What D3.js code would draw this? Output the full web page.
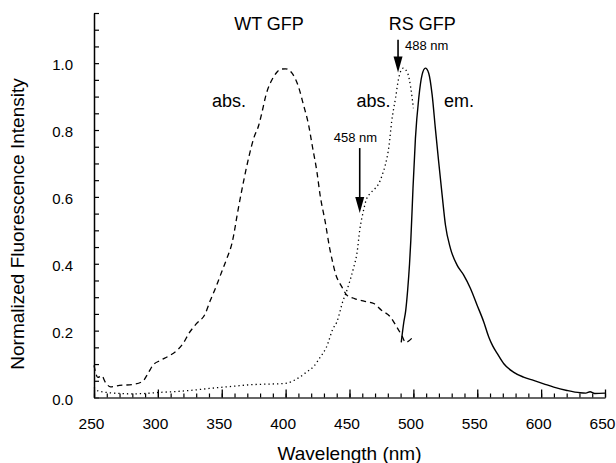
<!DOCTYPE html>
<html>
<head>
<meta charset="utf-8">
<script src="https://cdn.jsdelivr.net/npm/d3@7"></script>
<style>
  body { margin: 0; background: #fff; }
  svg { display: block; font-family: "Liberation Sans", Arial, Helvetica, sans-serif; }
</style>
</head>
<body>
<div id="chart"></div>
<script>
// WT GFP absorbance (dashed)
var wtWave = [250, 253, 256, 259, 263, 270, 280, 288, 292, 296, 302, 308, 315, 320, 324, 330, 337, 341, 345, 350,
  354, 358, 363, 367, 371, 375, 379, 381, 385, 389, 393, 396, 400, 405, 410, 414, 418, 421, 424.5, 427,
  431, 434.5, 436.5, 439, 444, 448, 454, 464, 469, 475, 482, 487, 491, 494, 499];
var wtAbs = [0.096, 0.06, 0.065, 0.045, 0.032, 0.036, 0.039, 0.048, 0.07, 0.096, 0.111, 0.123, 0.141, 0.163, 0.19, 0.22, 0.25, 0.29, 0.326, 0.376,
  0.416, 0.461, 0.566, 0.645, 0.716, 0.775, 0.815, 0.845, 0.91, 0.948, 0.972, 0.982, 0.983, 0.97, 0.93, 0.875, 0.815, 0.75, 0.675, 0.605,
  0.525, 0.446, 0.41, 0.371, 0.331, 0.306, 0.296, 0.286, 0.281, 0.261, 0.241, 0.211, 0.185, 0.165, 0.178];

// RS GFP absorbance (dotted)
var rsWave = [250, 253, 260, 270, 280, 290, 300, 310, 325, 340, 351, 360, 372, 385, 395, 401, 406, 411, 416, 422,
  427, 432, 437, 440, 445, 447, 450, 453, 456, 458, 461, 463, 466, 470, 473, 476, 478, 481, 483, 486,
  488.5, 492, 495.5, 498, 500];
var rsAbs = [0.03, 0.02, 0.015, 0.012, 0.011, 0.012, 0.015, 0.017, 0.021, 0.027, 0.031, 0.034, 0.038, 0.04, 0.041, 0.043, 0.05, 0.061, 0.075, 0.093,
  0.12, 0.151, 0.205, 0.225, 0.29, 0.31, 0.345, 0.385, 0.436, 0.5, 0.56, 0.59, 0.61, 0.625, 0.64, 0.67, 0.695, 0.755, 0.825, 0.895,
  0.955, 0.985, 0.97, 0.925, 0.865];

// RS GFP emission (solid)
var emWave = [490.5, 492.5, 494, 495.5, 497, 498, 499.7, 501.6, 504.2, 506.8, 509.4, 512, 514.7, 517.2, 519.8, 522.5, 525.1, 529, 534.2, 539.4,
  544.7, 549.9, 555.1, 559, 562, 565.6, 570.8, 578.3, 586.2, 594.1, 602, 609.9, 620.2, 630.4, 635, 638.3, 642, 650];
var emVal = [0.165, 0.225, 0.26, 0.32, 0.4, 0.47, 0.626, 0.775, 0.895, 0.965, 0.985, 0.97, 0.905, 0.805, 0.705, 0.606, 0.516, 0.446, 0.396, 0.366,
  0.326, 0.276, 0.226, 0.181, 0.155, 0.132, 0.101, 0.076, 0.061, 0.051, 0.041, 0.031, 0.021, 0.014, 0.013, 0.017, 0.012, 0.013];

var xLabels = [250, 300, 350, 400, 450, 500, 550, 600, 650];
var yLabels = [0, 0.2, 0.4, 0.6, 0.8, 1.0];

// text labels: [text, wavelength, intensity]
var labelText = ["WT GFP", "RS GFP", "abs.", "abs.", "em."];
var labelWave = [387, 507, 355.7, 468.8, 535.7];
var labelVal = [1.10, 1.10, 0.87, 0.87, 0.87];

// excitation arrows
var arrowText = ["488 nm", "458 nm"];
var arrowWave = [488, 458];
var arrowTop = [1.07, 0.746];
var arrowTip = [0.972, 0.552];

var width = 616;
var height = 463;
var margin = {top: 13, right: 11, bottom: 65.5, left: 94};

var svg = d3.select("#chart").append("svg")
  .attr("width", width).attr("height", height);

var x = d3.scaleLinear().domain([250, 650]).range([margin.left, width - margin.right]);
var y = d3.scaleLinear().domain([0, 1.15]).range([height - margin.bottom, margin.top]);

// y axis: inward ticks every 0.05, labels every 0.2
var yMinor = d3.range(0, 1.1501, 0.05);
svg.append("g")
  .attr("transform", "translate(" + margin.left + ",0)")
  .call(d3.axisLeft(y).tickValues(yMinor).tickSize(-5).tickSizeOuter(0)
    .tickFormat(function(d) {
      return yLabels.some(function(v) { return Math.abs(v - d) < 1e-6; }) ? d3.format(".1f")(d) : "";
    }).tickPadding(21))
  .call(function(g) {
    g.select(".domain").attr("stroke", "#000").attr("stroke-width", 1.5);
    g.selectAll("line").attr("stroke-width", 1.2);
    g.selectAll("text").attr("font-size", 15).attr("fill", "#000").attr("dy", "0.45em")
      .attr("font-family", "Liberation Sans, Arial, sans-serif");
  });

// x axis: minor ticks every 10 nm
var xMinor = d3.range(250, 651, 10);
svg.append("g")
  .attr("transform", "translate(0," + y(0) + ")")
  .call(d3.axisBottom(x).tickValues(xMinor).tickSize(-4).tickSizeOuter(0).tickFormat(""))
  .call(function(g) {
    g.select(".domain").attr("stroke", "#333").attr("stroke-width", 1.6);
    g.selectAll("line").attr("stroke-width", 1.2);
  });

// x axis: major ticks with labels
svg.append("g")
  .attr("transform", "translate(0," + y(0) + ")")
  .call(d3.axisBottom(x).tickValues(xLabels).tickSize(-8).tickSizeOuter(0)
    .tickFormat(d3.format("d")).tickPadding(20))
  .call(function(g) {
    g.select(".domain").remove();
    g.selectAll("line").attr("stroke-width", 1.3);
    g.selectAll("text").attr("font-size", 15.5).attr("fill", "#000").attr("dx", -3)
      .attr("font-family", "Liberation Sans, Arial, sans-serif");
  });

// axis titles
svg.append("text")
  .attr("x", (margin.left + width - margin.right) / 2)
  .attr("y", 460)
  .attr("text-anchor", "middle")
  .attr("font-size", 19)
  .text("Wavelength (nm)");

svg.append("text")
  .attr("transform", "translate(24,224) rotate(-90)")
  .attr("text-anchor", "middle")
  .attr("font-size", 19)
  .text("Normalized Fluorescence Intensity");

// curves
var line = d3.line()
  .x(function(d) { return x(d[0]); })
  .y(function(d) { return y(d[1]); })
  .curve(d3.curveMonotoneX);

svg.append("path")
  .datum(d3.zip(wtWave, wtAbs))
  .attr("d", line)
  .attr("fill", "none")
  .attr("stroke", "#000")
  .attr("stroke-width", 1.3)
  .attr("stroke-dasharray", "5.5,4");

svg.append("path")
  .datum(d3.zip(rsWave, rsAbs))
  .attr("d", line)
  .attr("fill", "none")
  .attr("stroke", "#000")
  .attr("stroke-width", 1.3)
  .attr("stroke-dasharray", "1.3,3");

svg.append("path")
  .datum(d3.zip(emWave, emVal))
  .attr("d", line)
  .attr("fill", "none")
  .attr("stroke", "#000")
  .attr("stroke-width", 1.4);

// labels
svg.selectAll("text.lbl")
  .data(labelText)
  .enter().append("text")
  .attr("class", "lbl")
  .attr("x", function(d, i) { return x(labelWave[i]); })
  .attr("y", function(d, i) { return y(labelVal[i]); })
  .attr("text-anchor", "middle")
  .attr("font-size", 18)
  .text(function(d) { return d; });

// arrows
arrowText.forEach(function(t, i) {
  var ax = x(arrowWave[i]);
  var y1 = y(arrowTop[i]);
  var y2 = y(arrowTip[i]);
  svg.append("line")
    .attr("x1", ax).attr("x2", ax)
    .attr("y1", y1).attr("y2", y2 - 10)
    .attr("stroke", "#000").attr("stroke-width", 1.6);
  svg.append("path")
    .attr("d", "M" + (ax - 4.5) + "," + (y2 - 16) + "L" + (ax + 4.5) + "," + (y2 - 16) + "L" + ax + "," + y2 + "Z")
    .attr("fill", "#000");
});

svg.append("text")
  .attr("x", x(arrowWave[0]) + 7)
  .attr("y", y(1.0395))
  .attr("font-size", 13)
  .text(arrowText[0]);

svg.append("text")
  .attr("x", x(454.7))
  .attr("y", y(0.765))
  .attr("text-anchor", "middle")
  .attr("font-size", 13)
  .text(arrowText[1]);
</script>
</body>
</html>
